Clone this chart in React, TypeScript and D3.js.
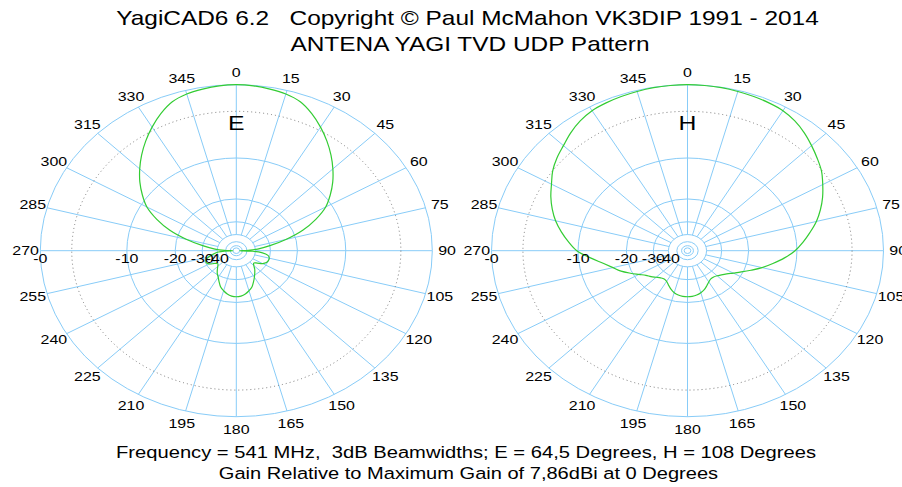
import React, { useEffect, useRef } from "react";
import * as d3 from "d3";

// text and tick labels
const TITLE_LINES = ["YagiCAD6 6.2   Copyright © Paul McMahon VK3DIP 1991 - 2014", "ANTENA YAGI TVD UDP Pattern"];
const NOTE_LINES = [
  "Frequency = 541 MHz,  3dB Beamwidths; E = 64,5 Degrees, H = 108 Degrees",
  "Gain Relative to Maximum Gain of 7,86dBi at 0 Degrees",
];
const ANGLE_TICKS = [0, 15, 30, 45, 60, 75, 90, 105, 120, 135, 150, 165, 180, 195, 210, 225, 240, 255, 270, 285, 300, 315, 330, 345];
const DB_RINGS = [0, -10, -20, -30, -40];
const DB_LABELS = ["-0", "-10", "-20", "-30", "-40"];
const INNER_RINGS = [-50, -60, -70];
const HALF_POWER_DB = -3;

// E plane pattern, dB relative to max
const E_ANGLES = [0, 5, 10, 15, 20, 25, 30, 35, 40, 45, 50, 55, 60, 65, 70, 75, 80, 85, 88, 90, 92, 95, 100, 105, 110, 115, 120, 125, 130, 135, 140, 145, 150, 155, 160, 165, 170, 175, 180, 185, 190, 195, 200, 205, 210, 215, 220, 225, 230, 235, 240, 245, 250, 255, 260, 265, 268, 270, 272, 275, 280, 285, 290, 295, 300, 305, 310, 315, 320, 325, 330, 335, 340, 345, 350, 355];
const E_GAIN = [0, -0.05, -0.2, -0.4, -0.8, -1.6, -2.6, -3.7, -4.9, -6.2, -7.6, -9.2, -11, -13.8, -17.5, -23, -30, -38, -48, -70, -44, -35, -31, -30, -30, -30.5, -32, -35, -37, -35.5, -33, -31, -29, -27, -25, -23.8, -22.8, -22.2, -22, -22.2, -22.8, -23.8, -25, -27, -29, -30.5, -32.5, -34.5, -36, -34.5, -31.5, -30.5, -31, -33, -36.5, -41, -48, -70, -48, -38, -30, -23, -17.5, -13.8, -11, -9.2, -7.6, -6.2, -4.9, -3.7, -2.6, -1.6, -0.8, -0.4, -0.2, -0.05];

// H plane pattern
const H_ANGLES = [0, 5, 10, 15, 20, 25, 30, 35, 40, 45, 50, 55, 60, 65, 70, 75, 80, 85, 90, 95, 100, 105, 110, 115, 120, 125, 130, 135, 140, 145, 150, 155, 160, 165, 170, 175, 180, 185, 190, 195, 200, 205, 210, 215, 220, 225, 230, 235, 240, 245, 250, 255, 260, 265, 270, 275, 280, 285, 290, 295, 300, 305, 310, 315, 320, 325, 330, 335, 340, 345, 350, 355];
const H_GAIN = [0, -0.02, -0.05, -0.12, -0.2, -0.3, -0.45, -0.8, -1.3, -1.9, -2.5, -3.1, -3.9, -4.7, -5.6, -6.6, -7.8, -9, -10.3, -12, -14, -16, -18.3, -20.5, -22.5, -24.2, -25.5, -26.5, -27, -27, -26.2, -25, -23.8, -23, -22.4, -22.1, -22, -22.1, -22.4, -23, -24, -25.3, -26.5, -27, -26.5, -25.5, -24.3, -23.2, -21.5, -19.5, -17.5, -16, -14.2, -12, -9.8, -8.5, -7.3, -6.2, -5.3, -4.5, -3.8, -3, -2.4, -1.9, -1.3, -0.8, -0.45, -0.3, -0.2, -0.12, -0.05, -0.02];

const PANELS = [
  { name: "E", cx: 236.3, angles: E_ANGLES, gain: E_GAIN },
  { name: "H", cx: 687.5, angles: H_ANGLES, gain: H_GAIN },
];

const W = 902;
const H = 487;
const CY = 250.7;
const RX = 196;
const RY = 166;
const SX = RX / RY; // the whole figure is stretched sideways
const FONT = "'Liberation Sans', Arial, sans-serif";
const GRID = "#88ccf8";
const TRACE = "#33cc33";

// ARRL log periodic radius, 0.89 per 2 dB
const radius = (db: number) => Math.pow(0.89, -db / 2);

const App = () => {
  const ref = useRef<HTMLDivElement>(null);

  useEffect(() => {
    d3.select(ref.current).select("svg").remove();

    const svg = d3
      .select(ref.current)
      .append("svg")
      .attr("width", W)
      .attr("height", H)
      .style("position", "absolute")
      .style("left", 0)
      .style("top", 0)
      .style("background", "#fff");

    const addText = (g: any, x: number, y: number, str: string, size: number, baseline = "auto") =>
      g
        .append("text")
        .attr("transform", `translate(${x},${y}) scale(${SX},1)`)
        .attr("text-anchor", "middle")
        .attr("dominant-baseline", baseline)
        .style("font-family", FONT)
        .style("font-size", `${size}px`)
        .style("white-space", "pre")
        .attr("fill", "#000")
        .text(str);

    PANELS.forEach((p) => {
      const g = svg.append("g");
      const x = d3.scaleLinear().domain([-1, 1]).range([p.cx - RX, p.cx + RX]);
      const y = d3.scaleLinear().domain([-1, 1]).range([CY + RY, CY - RY]);
      const rad = (a: number) => (a * Math.PI) / 180;

      // rings
      [...DB_RINGS, ...INNER_RINGS].forEach((db) => {
        g.append("ellipse")
          .attr("cx", p.cx)
          .attr("cy", CY)
          .attr("rx", radius(db) * RX)
          .attr("ry", radius(db) * RY)
          .attr("fill", "none")
          .attr("stroke", GRID)
          .attr("stroke-width", 1);
      });

      // spokes
      const r0 = radius(-40);
      ANGLE_TICKS.forEach((a) => {
        g.append("line")
          .attr("x1", x(r0 * Math.sin(rad(a))))
          .attr("y1", y(r0 * Math.cos(rad(a))))
          .attr("x2", x(Math.sin(rad(a))))
          .attr("y2", y(Math.cos(rad(a))))
          .attr("stroke", GRID)
          .attr("stroke-width", 1);
      });

      // -3 dB ring
      g.append("ellipse")
        .attr("cx", p.cx)
        .attr("cy", CY)
        .attr("rx", radius(HALF_POWER_DB) * RX)
        .attr("ry", radius(HALF_POWER_DB) * RY)
        .attr("fill", "none")
        .attr("stroke", "#7a7a7a")
        .attr("stroke-width", 1)
        .attr("stroke-dasharray", "1,3");

      // pattern
      const pts = p.angles.map((a, i) => [a, p.gain[i]]);
      const line = d3
        .line<number[]>()
        .x((d) => x(radius(d[1]) * Math.sin(rad(d[0]))))
        .y((d) => y(radius(d[1]) * Math.cos(rad(d[0]))))
        .curve(d3.curveCatmullRomClosed.alpha(0.5));
      g.append("path")
        .attr("d", line(pts))
        .attr("fill", "none")
        .attr("stroke", TRACE)
        .attr("stroke-width", 1.2);

      // angle labels
      ANGLE_TICKS.forEach((a) => {
        addText(g, x(1.075 * Math.sin(rad(a))), y(1.075 * Math.cos(rad(a))), String(a), 13.5, "central");
      });

      // dB labels along 270
      DB_RINGS.forEach((db, i) => {
        addText(g, x(-radius(db)), CY + 8, DB_LABELS[i], 13.5, "central");
      });

      addText(g, p.cx, 130, p.name, 21);
    });

    addText(svg, 467.5, 25, TITLE_LINES[0], 20.7);
    addText(svg, 470, 51, TITLE_LINES[1], 20.7);
    addText(svg, 466, 458, NOTE_LINES[0], 17.1);
    addText(svg, 468.5, 479, NOTE_LINES[1], 17);
  }, []);

  return <div ref={ref}></div>;
};

export default App;
